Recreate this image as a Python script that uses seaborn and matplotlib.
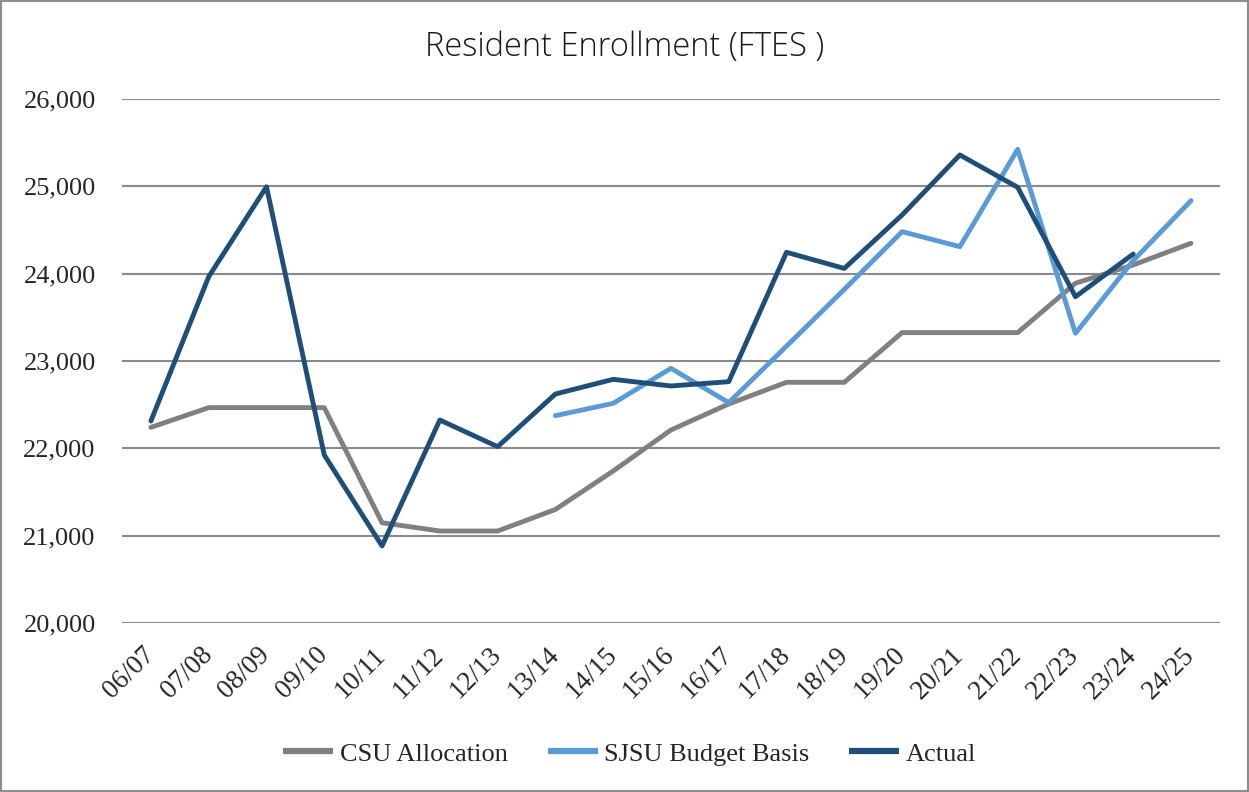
import numpy as np
import pandas as pd
import matplotlib
matplotlib.use("Agg")
import matplotlib.pyplot as plt
import matplotlib.transforms as mtransforms
import seaborn as sns
from matplotlib.patches import Rectangle

years = ["06/07", "07/08", "08/09", "09/10", "10/11", "11/12", "12/13", "13/14", "14/15",
         "15/16", "16/17", "17/18", "18/19", "19/20", "20/21", "21/22", "22/23", "23/24", "24/25"]
csu_allocation = [22240, 22466, 22466, 22466, 21148, 21053, 21053, 21300, 21740,
                  22210, 22508, 22756, 22756, 23325, 23325, 23325, 23890, 24100, 24348]
sjsu_budget = [None, None, None, None, None, None, None, 22374, 22515,
               22916, 22523, 23170, 23820, 24481, 24309, 25424, 23317, 24150, 24836]
actual = [22313, 23965, 24995, 21924, 20882, 22324, 22019, 22622, 22790,
          22714, 22763, 24245, 24060, 24672, 25359, 24989, 23736, 24225, None]
series_names = ["CSU Allocation", "SJSU Budget Basis", "Actual"]
yticks = [20000, 21000, 22000, 23000, 24000, 25000, 26000]
colors = ["#808080", "#5B9BD5", "#1F4E79"]

rows = []
for name, vals in zip(series_names, [csu_allocation, sjsu_budget, actual]):
    for i, v in enumerate(vals):
        if v is not None:
            rows.append({"idx": i, "value": v, "series": name})
df = pd.DataFrame(rows)

sns.set_theme(style="white")
plt.rcParams['font.family'] = ['Liberation Serif', 'DejaVu Serif']

fig = plt.figure(figsize=(12.49, 7.92), dpi=100)
ax = fig.add_axes([0.0977, 0.2134, 0.879, 0.6616])

sns.lineplot(data=df, x="idx", y="value", hue="series", hue_order=series_names,
             palette=colors, linewidth=3.5, ax=ax, legend=True, sort=False)

ax.set_xlim(-0.5, len(years) - 0.5)
ax.set_ylim(20000, 26000)
ax.set_yticks(yticks)
ax.set_yticklabels([f"{v:,}" for v in yticks], fontsize=19)
ax.set_xticks(range(len(years)))
ax.set_xticklabels(years, rotation=45, ha="right", rotation_mode="anchor", fontsize=19.5)
ax.tick_params(axis="both", length=0)
ax.tick_params(axis="y", pad=19)
ax.tick_params(axis="x", pad=14)
offset = mtransforms.ScaledTranslation(-9 / 100, 0, fig.dpi_scale_trans)
for lbl in ax.get_xticklabels():
    lbl.set_transform(lbl.get_transform() + offset)
ax.set_xlabel("")
ax.set_ylabel("")
for s in ax.spines.values():
    s.set_visible(False)
ax.yaxis.grid(True, color="#8a8a8a", linewidth=1.5)
ax.xaxis.grid(False)
ax.set_axisbelow(True)

fig.text(0.5, 1 - 47 / 792, "Resident Enrollment (FTES )", ha="center", va="center",
         fontsize=23.5, family="Open Sans", fontweight="light", color="#1a1a1a")

leg = ax.legend(loc="center", bbox_to_anchor=(0.4625, -0.25), ncol=3, frameon=False,
                fontsize=19, handlelength=1.9, columnspacing=1.5, handletextpad=0.25)
for h in leg.get_lines():
    h.set_linewidth(4.5)
    h.set_solid_capstyle("butt")

fig.patches.append(Rectangle((0.0008, 0.0012), 0.9984, 0.9976, transform=fig.transFigure,
                             fill=False, edgecolor="#8c8c8c", linewidth=1.5))

fig.savefig("out.png", dpi=100)
